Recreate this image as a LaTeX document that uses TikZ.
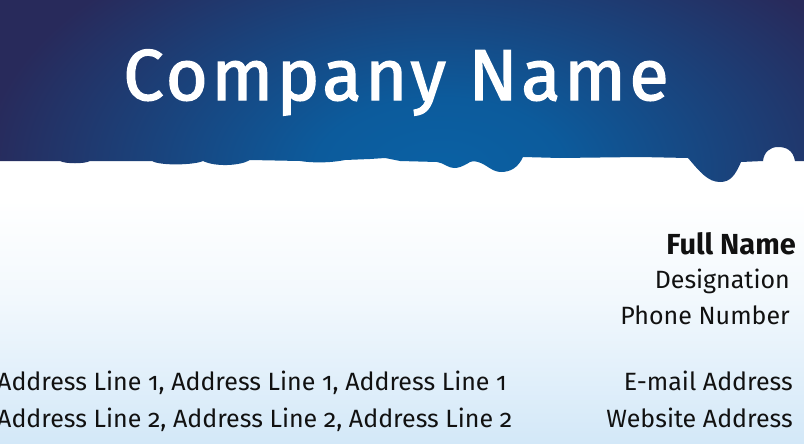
\documentclass[tikz,border=0pt]{standalone}
\usepackage{fontspec}
\setmainfont{Fira Sans}[Numbers=OldStyle]
\newfontfamily\titlefont{Fira Sans}[LetterSpace=5]
\definecolor{glowc}{HTML}{0A61A4}
\definecolor{glowm}{HTML}{0C5B9C}
\definecolor{edgec}{HTML}{282A5B}
\definecolor{paleblue}{HTML}{D3E8F8}
\definecolor{inkc}{HTML}{111111}
\pgfdeclareradialshading{bandglow}{\pgfpoint{0bp}{0bp}}{color(0bp)=(glowc); color(6bp)=(glowm); color(22bp)=(edgec); color(25bp)=(edgec); color(50bp)=(edgec)}
\newcommand{\heavytext}[1]{\special{pdf:literal 2 Tr 1.4 w 1 1 1 RG}#1\special{pdf:literal 0 Tr}}
\tikzset{
  rtext/.style={anchor=base east, text=inkc, font=\fontsize{25}{30}\selectfont, inner sep=0pt},
  ltext/.style={anchor=base west, text=inkc, font=\fontsize{25}{30}\selectfont, inner sep=0pt},
}
\begin{document}
\begin{tikzpicture}[x=1pt,y=-1pt]
\useasboundingbox (0,0) rectangle (804,444);
% lower background
\fill[white] (0,150) rectangle (804,200);
\shade[top color=white, bottom color=white!70!paleblue] (0,199.5) rectangle (804,300);
\shade[top color=white!70!paleblue, bottom color=paleblue] (0,299.5) rectangle (804,444);
% top band
\begin{scope}
\clip (0,0) -- (804,0) -- (804,161) -- (795,161)
  .. controls (793,150) and (786,147) .. (778,147)
  .. controls (770,147) and (764,152) .. (763,161)
  -- (741,162)
  .. controls (735,176) and (730,182) .. (720,182)
  .. controls (708,182) and (700,172) .. (688,158)
  -- (640,157) -- (560,158) -- (523,157)
  .. controls (518,168) and (510,172) .. (501,172)
  .. controls (492,172) and (486,164) .. (478,162)
  .. controls (474,161) and (472,161) .. (470,162)
  .. controls (462,167) and (458,168) .. (454,168)
  .. controls (448,168) and (444,163) .. (437,162)
  -- (400,161) -- (385,158) -- (370,159) -- (345,160)
  .. controls (330,163) and (312,163) .. (300,161)
  -- (250,160)
  .. controls (240,166) and (215,167) .. (203,161)
  .. controls (195,165) and (160,166) .. (152,161)
  -- (90,161)
  .. controls (85,164) and (65,164) .. (60,161)
  -- (0,161) -- cycle;
\shade[shading=bandglow] (-80,-130) rectangle (960,470);
\end{scope}
% right block
\node[rtext, font=\bfseries\fontsize{29}{34}\selectfont] (fullname) at (796,254) {Full Name};
\node[rtext] (desig) at (790,288) {Designation};
\node[rtext] (phone) at (790,324) {Phone Number};
\node[rtext] (email) at (793,390) {E-mail Address};
\node[rtext] (web) at (793,427) {Website Address};
% address
\node[ltext] (addr1) at (-3,390) {Address Line 1, Address Line 1, Address Line 1};
\node[ltext] (addr2) at (-3,427) {Address Line 2, Address Line 2, Address Line 2};
% title
\node[anchor=base, text=white, inner sep=0pt, font=\titlefont\fontsize{72}{80}\selectfont] (title) at (396,100) {\heavytext{Company Name}};
\end{tikzpicture}
\end{document}
